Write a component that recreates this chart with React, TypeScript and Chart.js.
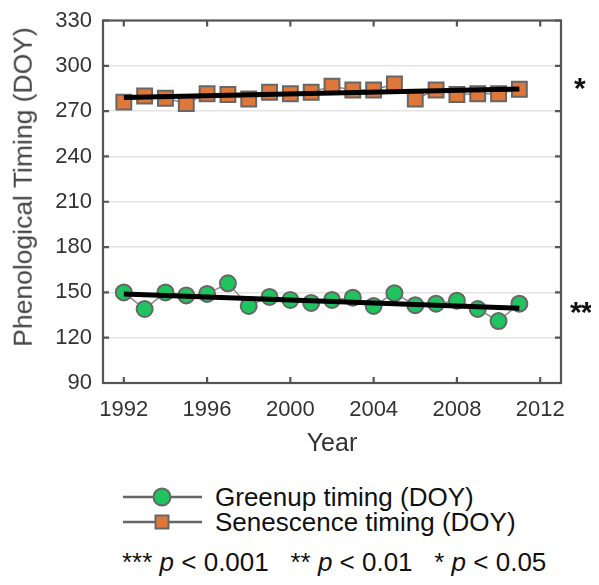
import React, { useEffect, useRef } from "react";
import { Chart, registerables } from "chart.js";

Chart.register(...registerables);

const years = [1992, 1993, 1994, 1995, 1996, 1997, 1998, 1999, 2000, 2001, 2002, 2003, 2004, 2005, 2006, 2007, 2008, 2009, 2010, 2011];
const greenup = [150, 139, 150, 148, 149, 156, 141, 147, 145, 143, 145, 146.5, 141, 149.5, 141.5, 142.5, 144.5, 139, 131, 142.5];
const senescence = [276, 280, 278.5, 275, 281.5, 281, 278, 282.5, 281.5, 282.5, 286.5, 284, 284, 288, 278, 284, 281, 281.5, 281.5, 284.5];
const trendYears = [1992, 2011];
const greenupTrend = [149, 139.5];
const senescenceTrend = [279, 284.7];
const xTicks = [1992, 1996, 2000, 2004, 2008, 2012];
const yTicks = [90, 120, 150, 180, 210, 240, 270, 300, 330];

const FONT = '"Liberation Sans", Arial, sans-serif';
const GREEN = "#1fc45e";
const ORANGE = "#e0773a";
const EDGE = "#666666";

const framePlugin = {
  id: "frame",
  beforeDatasetsDraw(chart: any) {
    const { ctx, chartArea: a, scales } = chart;
    ctx.save();
    ctx.strokeStyle = "#555";
    ctx.lineWidth = 2.2;
    ctx.strokeRect(a.left, a.top, a.right - a.left, a.bottom - a.top);
    const t = 6;
    ctx.beginPath();
    for (const v of yTicks) {
      const y = scales.y.getPixelForValue(v);
      ctx.moveTo(a.left, y);
      ctx.lineTo(a.left + t, y);
      ctx.moveTo(a.right, y);
      ctx.lineTo(a.right - t, y);
    }
    for (const v of xTicks) {
      const x = scales.x.getPixelForValue(v);
      ctx.moveTo(x, a.bottom);
      ctx.lineTo(x, a.bottom - t);
      ctx.moveTo(x, a.top);
      ctx.lineTo(x, a.top + t);
    }
    ctx.stroke();
    ctx.restore();
  },
};

export default function App() {
  const ref = useRef<HTMLCanvasElement>(null);
  useEffect(() => {
    document.body.style.overflow = "hidden";
    if (!ref.current) return;
    const chart = new Chart(ref.current, {
      type: "line",
      data: {
        datasets: [
          {
            label: "Greenup trend",
            data: trendYears.map((x, i) => ({ x, y: greenupTrend[i] })),
            borderColor: "#000",
            borderWidth: 5,
            pointRadius: 0,
            order: 0,
          },
          {
            label: "Senescence trend",
            data: trendYears.map((x, i) => ({ x, y: senescenceTrend[i] })),
            borderColor: "#000",
            borderWidth: 5,
            pointRadius: 0,
            order: 0,
          },
          {
            label: "Greenup timing (DOY)",
            data: years.map((x, i) => ({ x, y: greenup[i] })),
            borderColor: "#8a8a8a",
            borderWidth: 1.5,
            pointStyle: "circle",
            pointRadius: 8,
            pointBackgroundColor: GREEN,
            pointBorderColor: EDGE,
            pointBorderWidth: 2,
            order: 1,
          },
          {
            label: "Senescence timing (DOY)",
            data: years.map((x, i) => ({ x, y: senescence[i] })),
            borderColor: "#8a8a8a",
            borderWidth: 1.5,
            pointStyle: "rect",
            pointRadius: 10.5,
            pointBackgroundColor: ORANGE,
            pointBorderColor: EDGE,
            pointBorderWidth: 2,
            order: 1,
          },
        ],
      },
      options: {
        animation: false,
        responsive: true,
        maintainAspectRatio: false,
        layout: { padding: { top: 7, right: 30, left: 0, bottom: 0 } },
        plugins: { legend: { display: false }, tooltip: { enabled: false } },
        scales: {
          x: {
            type: "linear",
            min: 1991,
            max: 2013,
            afterBuildTicks: (s: any) => {
              s.ticks = xTicks.map((v) => ({ value: v }));
            },
            afterFit: (s: any) => {
              s.height = 85;
              s.paddingLeft = 0;
              s.paddingRight = 0;
            },
            grid: { display: false, drawTicks: false },
            border: { display: false },
            ticks: {
              padding: 14,
              color: "#333",
              font: { family: FONT, size: 22 },
              maxRotation: 0,
              callback: (v: any) => String(v),
            },
            title: {
              display: true,
              text: "Year",
              color: "#333",
              font: { family: FONT, size: 25 },
              padding: { top: 0, bottom: 9 },
            },
          },
          y: {
            min: 90,
            max: 330,
            afterBuildTicks: (s: any) => {
              s.ticks = yTicks.map((v) => ({ value: v }));
            },
            afterFit: (s: any) => {
              s.width = 95;
              s.paddingTop = 0;
              s.paddingBottom = 0;
            },
            grid: { color: "#e4e4e4", lineWidth: 1.5, drawTicks: false },
            border: { display: false },
            ticks: {
              padding: 11,
              color: "#333",
              font: { family: FONT, size: 22 },
              callback: (v: any) => String(v),
            },
            title: { display: false },
          },
        },
      },
      plugins: [framePlugin],
    });
    return () => chart.destroy();
  }, []);

  const rowStyle: React.CSSProperties = {
    position: "absolute",
    left: 115,
    height: 26,
    display: "flex",
    alignItems: "center",
    fontFamily: FONT,
    fontSize: 26,
    color: "#111",
    whiteSpace: "pre",
  };

  const starStyle: React.CSSProperties = {
    position: "absolute",
    left: 564,
    fontSize: 30,
    fontWeight: "bold",
    color: "#111",
    whiteSpace: "nowrap",
    lineHeight: "normal",
  };

  return (
    <div style={{ position: "relative", width: 583, height: 569, fontFamily: FONT }}>
      <div style={{ position: "absolute", left: 0, top: 0, width: 583, height: 460 }}>
        <canvas ref={ref} />
      </div>
      <div
        style={{
          position: "absolute",
          left: 15,
          top: 178.5,
          transform: "translate(-50%, -50%) rotate(-90deg)",
          whiteSpace: "nowrap",
          fontSize: 26.5,
          color: "#444",
          lineHeight: 1,
        }}
      >
        Phenological Timing (DOY)
      </div>
      <div style={{ ...starStyle, left: 566, top: 63 }}>*</div>
      <div style={{ ...starStyle, left: 562, top: 287, letterSpacing: -1 }}>**</div>
      <div style={{ ...rowStyle, top: 476 }}>
        <svg width={92} height={26}>
          <line x1={0} y1={13} x2={79} y2={13} stroke="#666" strokeWidth={2.5} />
          <circle cx={39} cy={13} r={8.5} fill={GREEN} stroke={EDGE} strokeWidth={2} />
        </svg>
        <span>Greenup timing (DOY)</span>
      </div>
      <div style={{ ...rowStyle, top: 501 }}>
        <svg width={92} height={26}>
          <line x1={0} y1={13} x2={79} y2={13} stroke="#666" strokeWidth={2.5} />
          <rect x={32.5} y={6.5} width={13} height={13} fill={ORANGE} stroke={EDGE} strokeWidth={2} />
        </svg>
        <span>Senescence timing (DOY)</span>
      </div>
      <div style={{ ...rowStyle, left: 114, top: 541 }}>
        <span>*** <i>p</i> &lt; 0.001   ** <i>p</i> &lt; 0.01   * <i>p</i> &lt; 0.05</span>
      </div>
    </div>
  );
}
